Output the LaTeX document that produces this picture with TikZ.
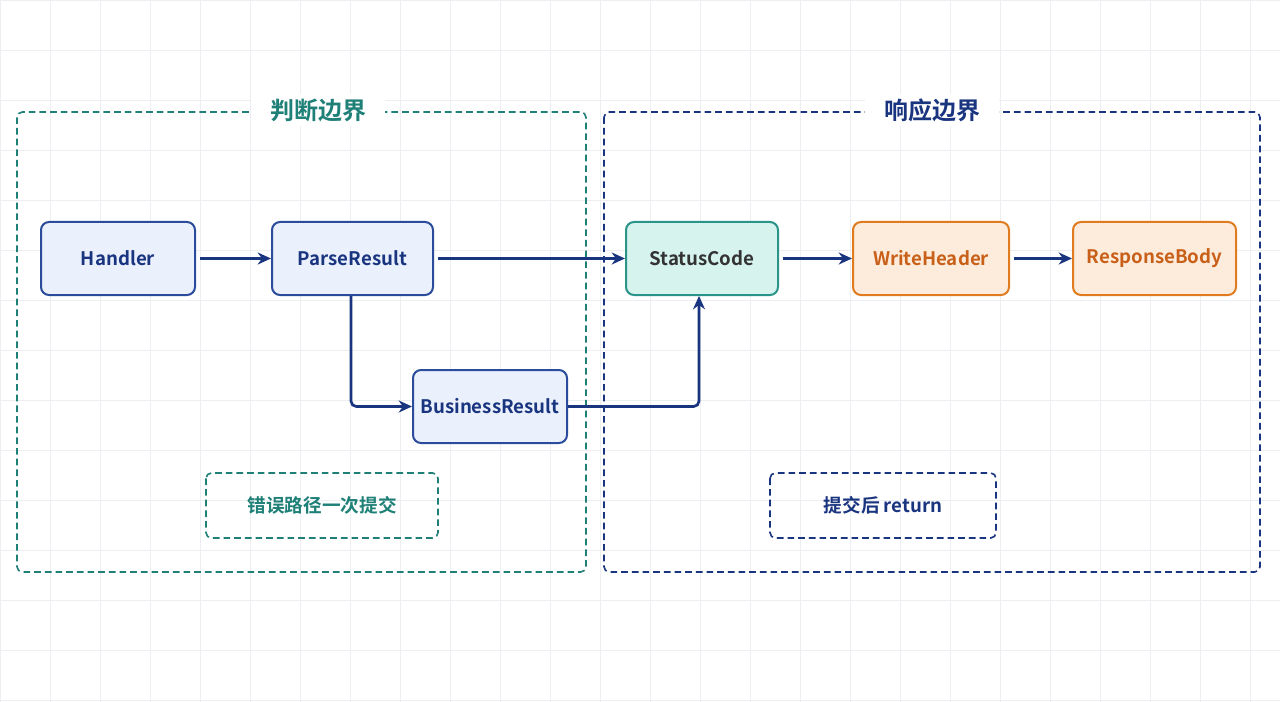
\documentclass[tikz,border=0pt]{standalone}
\usepackage{fontspec}
\setmainfont{Noto Sans CJK SC}[BoldFont={* Bold}]
\usetikzlibrary{arrows.meta}
\definecolor{teal1}{HTML}{1F8078}
\definecolor{navy1}{HTML}{1A3580}
\definecolor{bfill}{HTML}{EAF0FC}
\definecolor{bdraw}{HTML}{2B4C9A}
\definecolor{tfill}{HTML}{D6F3EE}
\definecolor{tdraw}{HTML}{2A9488}
\definecolor{ofill}{HTML}{FDECDB}
\definecolor{odraw}{HTML}{E07B20}
\definecolor{otext}{HTML}{C8601A}
\definecolor{gridc}{HTML}{ECEEF2}
\begin{document}
\begin{tikzpicture}[x=0.75pt,y=-0.75pt,
 box/.style={rounded corners=6pt,line width=1.5pt,font=\bfseries\fontsize{14}{16}\selectfont,anchor=north west,minimum height=54.75pt,inner sep=0},
 blue/.style={box,fill=bfill,draw=bdraw,text=navy1},
 tealn/.style={box,fill=tfill,draw=tdraw,text=black!80},
 orng/.style={box,fill=ofill,draw=odraw,text=otext},
 arr/.style={-{Stealth[length=10pt,width=9pt]},line width=2pt,draw=navy1,rounded corners=4pt},
 zone/.style={dash pattern=on 5pt off 3pt,line width=1.2pt,rounded corners=4pt},
 ttl/.style={fill=white,font=\bfseries\fontsize{18}{21}\selectfont,inner xsep=14pt}]
\useasboundingbox (0,0) rectangle (1280,702);
\fill[white] (0,0) rectangle (1280,702);
\draw[gridc,line width=0.6pt] (0,0) grid[step=37.5pt] (1280,702);
% zones
\draw[zone,teal1] (17,112) rectangle (586,572);
\draw[zone,navy1] (604,112) rectangle (1260,572);
\node[ttl,text=teal1] (t1) at (318,110) {判断边界};
\node[ttl,text=navy1] (t2) at (932,110) {响应边界};
% nodes
\node[blue,minimum width=115.5pt] (h) at (40,221) {Handler};
\node[blue,minimum width=120.75pt] (p) at (271,221) {ParseResult};
\node[blue,minimum width=115.5pt] (b) at (412,369) {BusinessResult};
\node[tealn,minimum width=114pt] (s) at (625,221) {StatusCode};
\node[orng,minimum width=117pt] (w) at (852,221) {WriteHeader};
\node[orng,minimum width=122.25pt] (r) at (1072,221) {ResponseBody};
% arrows
\draw[arr] ([xshift=3pt]h.east) -- (p.west);
\draw[arr] ([xshift=3pt]p.east) -- (s.west);
\draw[arr] (p.south -| 351,0) |- (b.west);
\draw[arr] (b.east) -| (s.south -| 699,0);
\draw[arr] ([xshift=3pt]s.east) -- (w.west);
\draw[arr] ([xshift=3pt]w.east) -- (r.west);
% notes
\draw[zone,teal1] (206,473) rectangle (438,538);
\node[text=teal1,font=\bfseries\fontsize{14}{16}\selectfont] (n1) at (322,505.5) {错误路径一次提交};
\draw[zone,navy1] (770,473) rectangle (996,538);
\node[text=navy1,font=\bfseries\fontsize{14}{16}\selectfont] (n2) at (883,505.5) {提交后 return};
\end{tikzpicture}
\end{document}
